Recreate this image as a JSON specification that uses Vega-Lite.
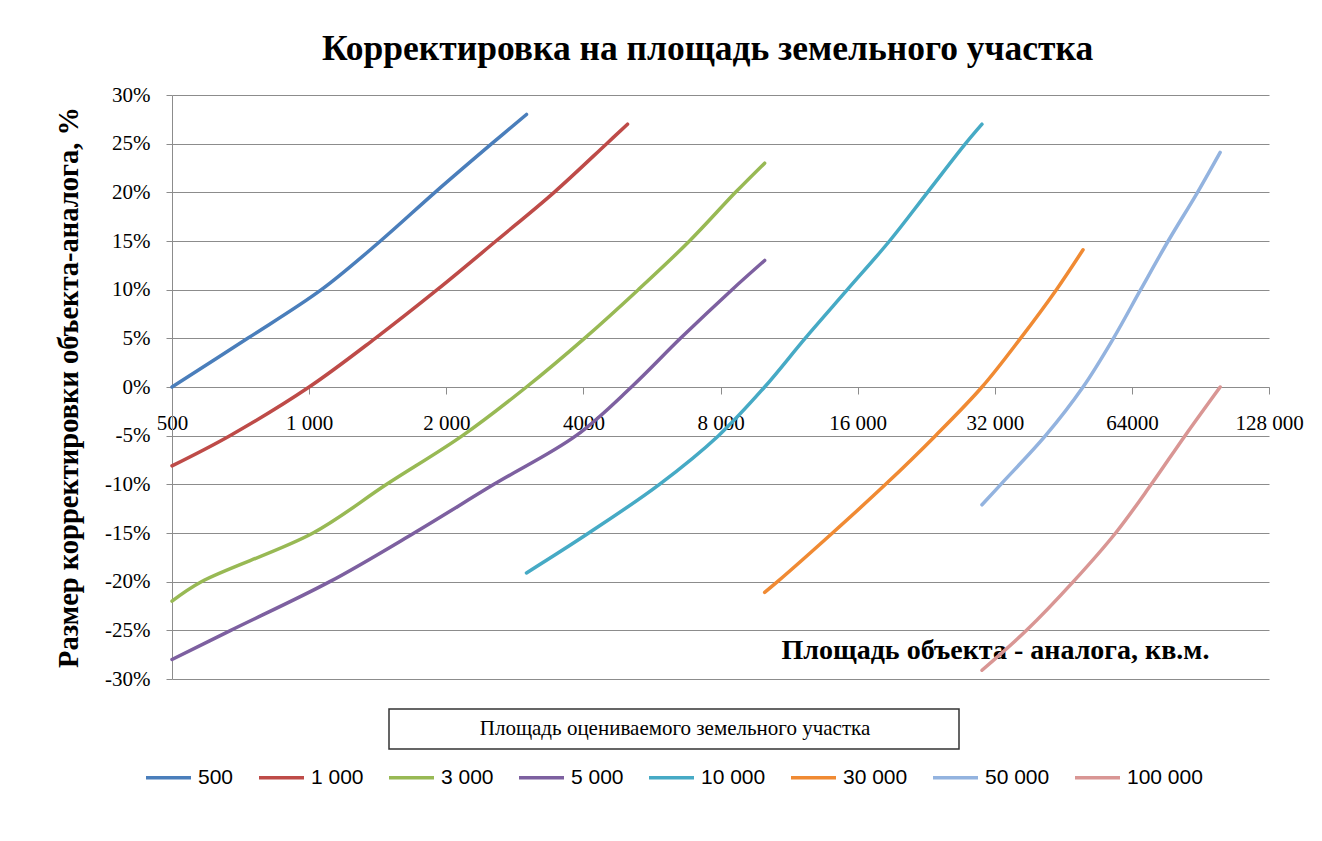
{
  "$schema": "https://vega.github.io/schema/vega-lite/v6.json",
  "width": 1097,
  "height": 584,
  "autosize": {"type": "none"},
  "padding": {"left": 172, "top": 95, "right": 53, "bottom": 162},
  "background": "white",
  "title": {
    "text": "Корректировка на площадь земельного участка",
    "font": "Liberation Serif",
    "fontSize": 35.5,
    "fontWeight": "bold",
    "color": "black",
    "anchor": "middle",
    "dx": -13,
    "dy": 46,
    "baseline": "alphabetic",
    "offset": 35
  },
  "data": {
    "values": [
      {"series": "500", "area": 500, "correction": 0},
      {"series": "500", "area": 733, "correction": 0.05},
      {"series": "500", "area": 1064, "correction": 0.10},
      {"series": "500", "area": 1434, "correction": 0.15},
      {"series": "500", "area": 1890, "correction": 0.20},
      {"series": "500", "area": 2517, "correction": 0.25},
      {"series": "500", "area": 3000, "correction": 0.28},

      {"series": "1 000", "area": 500, "correction": -0.081},
      {"series": "1 000", "area": 670, "correction": -0.05},
      {"series": "1 000", "area": 1000, "correction": 0},
      {"series": "1 000", "area": 1397, "correction": 0.05},
      {"series": "1 000", "area": 1911, "correction": 0.10},
      {"series": "1 000", "area": 2572, "correction": 0.15},
      {"series": "1 000", "area": 3450, "correction": 0.20},
      {"series": "1 000", "area": 4500, "correction": 0.25},
      {"series": "1 000", "area": 5000, "correction": 0.27},

      {"series": "3 000", "area": 500, "correction": -0.22},
      {"series": "3 000", "area": 580, "correction": -0.20},
      {"series": "3 000", "area": 1020, "correction": -0.15},
      {"series": "3 000", "area": 1480, "correction": -0.10},
      {"series": "3 000", "area": 2171, "correction": -0.05},
      {"series": "3 000", "area": 3000, "correction": 0},
      {"series": "3 000", "area": 4022, "correction": 0.05},
      {"series": "3 000", "area": 5280, "correction": 0.10},
      {"series": "3 000", "area": 6840, "correction": 0.15},
      {"series": "3 000", "area": 8630, "correction": 0.20},
      {"series": "3 000", "area": 10000, "correction": 0.23},

      {"series": "5 000", "area": 500, "correction": -0.28},
      {"series": "5 000", "area": 673, "correction": -0.25},
      {"series": "5 000", "area": 1110, "correction": -0.20},
      {"series": "5 000", "area": 1700, "correction": -0.15},
      {"series": "5 000", "area": 2545, "correction": -0.10},
      {"series": "5 000", "area": 3855, "correction": -0.05},
      {"series": "5 000", "area": 5100, "correction": 0},
      {"series": "5 000", "area": 6535, "correction": 0.05},
      {"series": "5 000", "area": 8480, "correction": 0.10},
      {"series": "5 000", "area": 10000, "correction": 0.13},

      {"series": "10 000", "area": 3000, "correction": -0.191},
      {"series": "10 000", "area": 4110, "correction": -0.15},
      {"series": "10 000", "area": 5876, "correction": -0.10},
      {"series": "10 000", "area": 7920, "correction": -0.05},
      {"series": "10 000", "area": 10000, "correction": 0},
      {"series": "10 000", "area": 12270, "correction": 0.05},
      {"series": "10 000", "area": 15190, "correction": 0.10},
      {"series": "10 000", "area": 18800, "correction": 0.15},
      {"series": "10 000", "area": 22780, "correction": 0.20},
      {"series": "10 000", "area": 27600, "correction": 0.25},
      {"series": "10 000", "area": 30000, "correction": 0.27},

      {"series": "30 000", "area": 10000, "correction": -0.211},
      {"series": "30 000", "area": 10670, "correction": -0.20},
      {"series": "30 000", "area": 14090, "correction": -0.15},
      {"series": "30 000", "area": 18430, "correction": -0.10},
      {"series": "30 000", "area": 23720, "correction": -0.05},
      {"series": "30 000", "area": 30000, "correction": 0},
      {"series": "30 000", "area": 36450, "correction": 0.05},
      {"series": "30 000", "area": 43700, "correction": 0.10},
      {"series": "30 000", "area": 50000, "correction": 0.141},

      {"series": "50 000", "area": 30000, "correction": -0.121},
      {"series": "50 000", "area": 33000, "correction": -0.10},
      {"series": "50 000", "area": 41360, "correction": -0.05},
      {"series": "50 000", "area": 50000, "correction": 0},
      {"series": "50 000", "area": 58300, "correction": 0.05},
      {"series": "50 000", "area": 66900, "correction": 0.10},
      {"series": "50 000", "area": 76900, "correction": 0.15},
      {"series": "50 000", "area": 89200, "correction": 0.20},
      {"series": "50 000", "area": 100000, "correction": 0.241},

      {"series": "100 000", "area": 30000, "correction": -0.291},
      {"series": "100 000", "area": 37580, "correction": -0.25},
      {"series": "100 000", "area": 47600, "correction": -0.20},
      {"series": "100 000", "area": 58950, "correction": -0.15},
      {"series": "100 000", "area": 70600, "correction": -0.10},
      {"series": "100 000", "area": 83740, "correction": -0.05},
      {"series": "100 000", "area": 100000, "correction": 0}
    ]
  },
  "encoding": {
    "x": {
      "field": "area",
      "type": "quantitative",
      "scale": {"type": "log", "base": 2, "domain": [500, 128000], "nice": false},
      "axis": {
        "orient": "bottom",
        "offset": -292,
        "values": [500, 1000, 2000, 4000, 8000, 16000, 32000, 64000, 128000],
        "labelExpr": "datum.value == 4000 || datum.value == 64000 ? format(datum.value, 'd') : replace(format(datum.value, ','), ',', ' ')",
        "grid": false,
        "domainColor": "#8c8c8c",
        "tickColor": "#8c8c8c",
        "tickSize": 7,
        "labelFont": "Liberation Serif",
        "labelFontSize": 21,
        "labelColor": "black",
        "labelPadding": 18,
        "labelFlush": false,
        "labelOverlap": false,
        "title": "Площадь объекта - аналога, кв.м.",
        "titleFont": "Liberation Serif",
        "titleFontSize": 28,
        "titleFontWeight": "bold",
        "titleColor": "black",
        "titleX": 823,
        "titleY": 263,
        "titleAlign": "center",
        "titleBaseline": "middle"
      }
    },
    "y": {
      "field": "correction",
      "type": "quantitative",
      "scale": {"domain": [-0.3, 0.3], "nice": false, "zero": false},
      "axis": {
        "values": [-0.3, -0.25, -0.2, -0.15, -0.1, -0.05, 0, 0.05, 0.1, 0.15, 0.2, 0.25, 0.3],
        "labelExpr": "(datum.value < -0.0001 ? '-' : '') + format(abs(datum.value), '.0%')",
        "grid": true,
        "gridColor": "#8c8c8c",
        "gridWidth": 1,
        "domainColor": "#8c8c8c",
        "tickColor": "#8c8c8c",
        "tickSize": 6,
        "labelFont": "Liberation Serif",
        "labelFontSize": 21,
        "labelColor": "black",
        "labelPadding": 16,
        "labelFlush": false,
        "labelOverlap": false,
        "title": "Размер корректировки объекта-аналога,  %",
        "titleFont": "Liberation Serif",
        "titleFontSize": 28.5,
        "titleFontWeight": "bold",
        "titleColor": "black",
        "titleAngle": -90,
        "titleX": -104,
        "titleY": 292,
        "titleAlign": "center",
        "titleBaseline": "middle"
      }
    }
  },
  "layer": [
    {
      "mark": {"type": "line", "interpolate": "catmull-rom", "strokeWidth": 3.5, "strokeCap": "round", "clip": false},
      "encoding": {
        "color": {
          "field": "series",
          "type": "nominal",
          "scale": {
            "domain": ["500", "1 000", "3 000", "5 000", "10 000", "30 000", "50 000", "100 000"],
            "range": ["#4A7EBB", "#BE4B48", "#98B954", "#7D60A0", "#46AAC5", "#F08A33", "#93B3DF", "#D99694"]
          },
          "legend": {
            "orient": "none",
            "legendX": -28,
            "legendY": 658,
            "direction": "horizontal",
            "columns": 8,
            "title": null,
            "padding": 0,
            "symbolType": "stroke",
            "symbolSize": 2025,
            "symbolStrokeWidth": 3.5,
            "labelOffset": 5,
            "columnPadding": 18,
            "labelFont": "Liberation Sans",
            "labelFontSize": 21,
            "labelColor": "black"
          }
        }
      }
    },
    {
      "mark": {"type": "point", "filled": false, "size": 0, "color": "#333333", "strokeWidth": 1.5},
      "encoding": {
        "opacity": {
          "field": "area",
          "type": "quantitative",
          "scale": {"range": [1, 1]},
          "legend": {
            "orient": "none",
            "legendX": 216,
            "legendY": 348,
            "title": null,
            "padding": 0,
            "values": [1000],
            "symbolType": "M-1,-0.0702L1,-0.0702L1,0.0702L-1,0.0702Z",
            "symbolSize": 324900,
            "symbolStrokeColor": "#333333",
            "symbolFillColor": "transparent",
            "symbolStrokeWidth": 1.5,
            "labelExpr": "'Площадь оцениваемого земельного участка'",
            "labelAlign": "center",
            "labelBaseline": "middle",
            "labelOffset": -285,
            "labelLimit": 1000,
            "labelFont": "Liberation Serif",
            "labelFontSize": 21,
            "labelColor": "black",
            "encode": {
              "symbols": {
                "update": {
                  "stroke": {"value": "#333333"},
                  "fill": {"value": "transparent"},
                  "strokeWidth": {"value": 1.5},
                  "opacity": {"value": 1}
                }
              }
            }
          }
        }
      }
    }
  ],
  "config": {
    "view": {"stroke": null}
  }
}
